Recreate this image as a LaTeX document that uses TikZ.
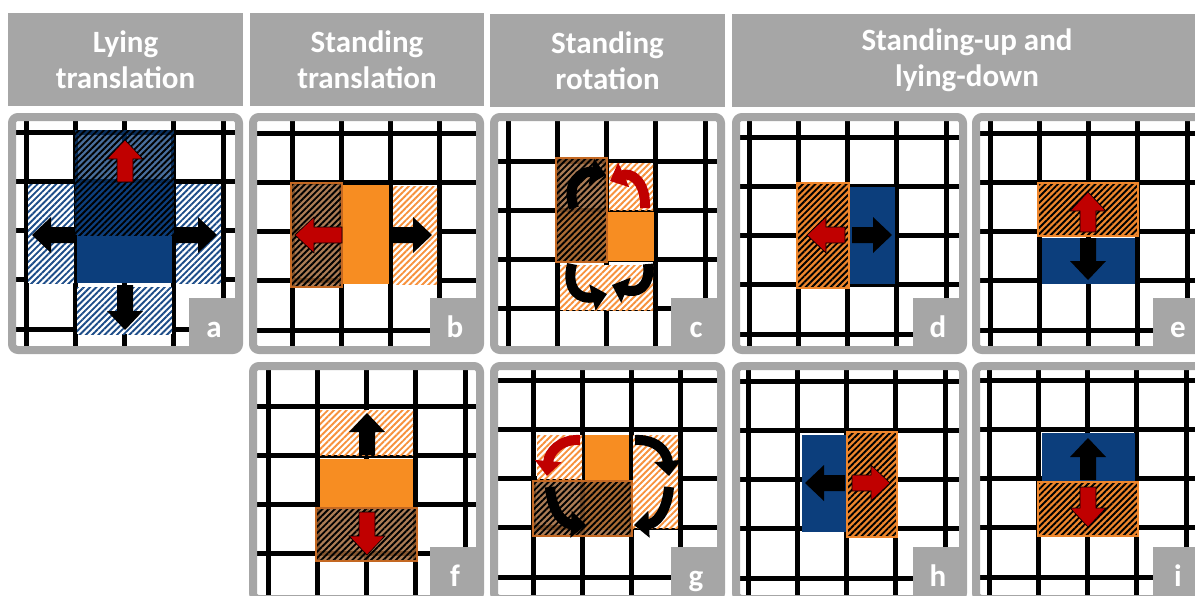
\documentclass[tikz,border=0pt]{standalone}
\usepackage{fontspec}
\setmainfont{Carlito}
\usetikzlibrary{arrows.meta, patterns.meta}

\definecolor{panelgrey}{RGB}{166,166,166}
\definecolor{blockblue}{RGB}{12,62,124}
\definecolor{blockorange}{RGB}{247,141,34}
\definecolor{destedge}{RGB}{196,104,34}
\definecolor{destbrown}{RGB}{158,102,56}
\definecolor{destorange}{RGB}{238,134,44}
\definecolor{hatchorange}{RGB}{247,145,60}
\definecolor{hatchblue}{RGB}{28,76,136}
\definecolor{moveRed}{RGB}{192,0,0}

\tikzset{
  gridline/.style={line width=5pt, black},
  panelframe/.style={draw=panelgrey, line width=8pt, rounded corners=6pt},
  header/.style={fill=panelgrey, text=white, align=center, inner sep=0pt,
    font=\bfseries\fontsize{31}{36}\selectfont},
  tag/.style={text=white, inner sep=0pt, font=\bfseries\fontsize{31}{31}\selectfont},
  hatch/.style={pattern={Lines[angle=45, distance=4.4pt, line width=1.9pt]}},
  lighthatch/.style={preaction={fill=white}, hatch, pattern color=#1},
  destA/.style={preaction={fill=destbrown, fill opacity=0.85}, hatch,
    pattern color=black, fill opacity=0.4, draw=destedge, line width=2pt},
  destB/.style={preaction={fill=destorange}, hatch, pattern color=black,
    fill opacity=0.65, draw=destorange, line width=2pt},
  destblue/.style={preaction={fill=blockblue, fill opacity=0.75}, hatch,
    pattern color=black, fill opacity=0.5},
  redarrow/.style={fill=moveRed, draw=black, line width=0.6pt},
  blackarrow/.style={fill=black},
  curvy/.style={line width=10pt, -{Triangle[width=26pt, length=15pt]}},
}

% one panel: #1,#2 top left corner, #3,#4 first grid lines, #5 letter
\newcommand{\gridpanel}[5]{%
  \begin{scope}
    \clip (#1+8,#2+8) rectangle (#1+227,#2+233);
    \fill[white] (#1,#2) rectangle (#1+235,#2+241);
    \foreach \k in {-1,...,5} {
      \draw[gridline] ({#3+(\k)*49.3},#2) -- ({#3+(\k)*49.3},#2+241);
      \draw[gridline] (#1,{#4+(\k)*49.3}) -- (#1+235,{#4+(\k)*49.3});
    }
  \end{scope}
  \fill[panelgrey] (#1+181,#2+185) rectangle (#1+232,#2+238);
  \draw[panelframe] (#1+4,#2+4) rectangle (#1+231,#2+237);
  \node[tag, anchor=base] (tag#5) at (#1+206,#2+224) {#5};
}

% block arrow: #1 style, #2 base point, #3 direction, #4 length
\newcommand{\blockarrow}[4]{%
  \path[#1, shift={#2}, rotate=#3] (0,-8) -- (#4-19,-8) -- (#4-19,-18)
    -- (#4,0) -- (#4-19,18) -- (#4-19,8) -- (0,8) -- cycle;
}

\begin{document}
\begin{tikzpicture}[x=1pt, y=-1pt]
  \useasboundingbox (0,0) rectangle (1195,595);

  % Headers
  \node[header, minimum width=235pt, minimum height=93pt] (hLying) at (125.5,59.5) {Lying\\translation};
  \node[header, minimum width=234pt, minimum height=93pt] (hStandTr) at (367,59.5) {Standing\\translation};
  \node[header, minimum width=235pt, minimum height=93pt] (hStandRot) at (607.5,60.5) {Standing\\rotation};
  \node[header, minimum width=470pt, minimum height=93pt] (hUpDown) at (967,60.5) {Standing-up and\\lying-down};

  % Panels
  \gridpanel{8}{113}{26}{132}{a}
  \gridpanel{249}{113}{292}{133}{b}
  \gridpanel{490}{113}{508}{161}{c}
  \gridpanel{732}{113}{749}{137}{d}
  \gridpanel{972}{113}{990}{133}{e}
  \gridpanel{249}{362}{268}{406}{f}
  \gridpanel{490}{362}{533}{380}{g}
  \gridpanel{732}{362}{748}{381}{h}
  \gridpanel{972}{362}{989}{380}{i}

  % a: lying translation
  \path[lighthatch=hatchblue] (28,184) rectangle (74,283);
  \path[lighthatch=hatchblue] (176,184) rectangle (221,283);
  \path[lighthatch=hatchblue] (77,287) rectangle (172,334);
  \fill[blockblue] (77,183) rectangle (172,283);
  \path[destblue] (75,130) rectangle (174,235);
  \blockarrow{redarrow}{(125,182)}{90}{42}
  \blockarrow{blackarrow}{(75,235)}{180}{43}
  \blockarrow{blackarrow}{(174,235)}{0}{43}
  \blockarrow{blackarrow}{(125,285)}{-90}{45}

  % b: standing translation
  \path[lighthatch=hatchorange] (393,186) rectangle (437,284);
  \fill[blockorange] (343,185) rectangle (389,284);
  \path[destA] (291,183) rectangle (342,287);
  \blockarrow{redarrow}{(342,235)}{180}{47}
  \blockarrow{blackarrow}{(392,235)}{0}{40}

  % c: standing rotation
  \path[lighthatch=hatchorange] (609,163) rectangle (653,210);
  \path[lighthatch=hatchorange] (560,265) rectangle (653,310);
  \fill[blockorange] (558,212) rectangle (654,261);
  \path[destA] (556,158) rectangle (607,262);
  \draw[curvy, moveRed] (645,208) .. controls (646,180) and (630,172) .. (610,181);
  \draw[curvy] (574,208) .. controls (565,182) and (582,170) .. (606,175);
  \draw[curvy] (572,264) .. controls (565,292) and (582,300) .. (607,294);
  \draw[curvy] (648,264) .. controls (651,288) and (636,294) .. (612,285);

  % d: standing up
  \fill[blockblue] (850,187) rectangle (895,284);
  \path[destB] (797,183) rectangle (849,288);
  \blockarrow{redarrow}{(845,235)}{180}{38}
  \blockarrow{blackarrow}{(852,235)}{0}{40}

  % e: standing up
  \fill[blockblue] (1042,238) rectangle (1135,284);
  \path[destB] (1038,183) rectangle (1138,236);
  \blockarrow{redarrow}{(1088,232)}{90}{40}
  \blockarrow{blackarrow}{(1088,238)}{-90}{42}

  % f: standing translation
  \path[lighthatch=hatchorange] (320,410) rectangle (413,455);
  \fill[blockorange] (320,459) rectangle (413,508);
  \path[destA] (316,508) rectangle (417,561);
  \blockarrow{blackarrow}{(367,455)}{90}{42}
  \blockarrow{redarrow}{(367,512)}{-90}{43}

  % g: standing rotation
  \path[lighthatch=hatchorange] (537,435) rectangle (582,479);
  \path[lighthatch=hatchorange] (633,435) rectangle (678,528);
  \fill[blockorange] (585,435) rectangle (629,530);
  \path[destA] (533,481) rectangle (632,536);
  \draw[curvy, moveRed] (580,440) .. controls (560,439) and (549,452) .. (547,476);
  \draw[curvy] (550,487) .. controls (552,513) and (564,524) .. (586,525);
  \draw[curvy] (635,440) .. controls (657,439) and (667,452) .. (669,476);
  \draw[curvy] (669,487) .. controls (667,513) and (655,524) .. (634,525);

  % h: lying down
  \fill[blockblue] (802,435) rectangle (846,532);
  \path[destB] (847,432) rectangle (897,537);
  \blockarrow{blackarrow}{(845,483)}{180}{40}
  \blockarrow{redarrow}{(852,483)}{0}{38}

  % i: lying down
  \fill[blockblue] (1042,433) rectangle (1135,481);
  \path[destB] (1038,482) rectangle (1138,536);
  \blockarrow{blackarrow}{(1088,480)}{90}{42}
  \blockarrow{redarrow}{(1088,487)}{-90}{40}
\end{tikzpicture}
\end{document}
